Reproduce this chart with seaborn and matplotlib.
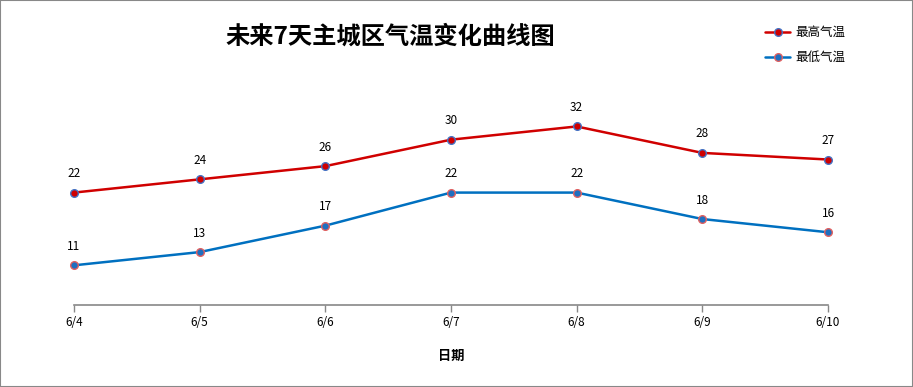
import pandas as pd
import matplotlib.pyplot as plt
import seaborn as sns
from matplotlib.patches import Rectangle

dates = ["6/4", "6/5", "6/6", "6/7", "6/8", "6/9", "6/10"]
high = [22, 24, 26, 30, 32, 28, 27]
low = [11, 13, 17, 22, 22, 18, 16]
series_names = ["最高气温", "最低气温"]

sns.set_theme(style="white")
plt.rcParams["font.family"] = ["Noto Sans CJK SC", "DejaVu Sans"]
plt.rcParams["text.color"] = "black"
plt.rcParams["xtick.color"] = "black"
plt.rcParams["axes.labelcolor"] = "black"

df = pd.DataFrame({
    "日期": list(range(len(dates))) * 2,
    "气温": high + low,
    "系列": [series_names[0]] * len(dates) + [series_names[1]] * len(dates),
})

fig = plt.figure(figsize=(9.13, 3.87), dpi=100)
ax = fig.add_axes([74 / 913, 1 - 305 / 387, (828 - 74) / 913, 205 / 387])

palette = {series_names[0]: "#D00000", series_names[1]: "#0070C0"}
sns.lineplot(data=df, x="日期", y="气温", hue="系列", palette=palette,
             linewidth=1.8, ax=ax, legend=False)

marker_face = {series_names[0]: "#D00000", series_names[1]: "#1F6FC0"}
marker_edge = {series_names[0]: "#4472C4", series_names[1]: "#E06060"}
for name in series_names:
    sub = df[df["系列"] == name]
    ax.plot(sub["日期"], sub["气温"], linestyle="none", marker="o", markersize=5.5,
            markerfacecolor=marker_face[name], markeredgecolor=marker_edge[name],
            markeredgewidth=1, clip_on=False, zorder=5)
    for xv, yv in zip(sub["日期"], sub["气温"]):
        ax.annotate(str(yv), (xv, yv), xytext=(0, 9), textcoords="offset points",
                    ha="center", va="bottom", fontsize=8.5, color="black")

ax.set_xlim(0, len(dates) - 1)
ax.set_ylim(5, 36)
ax.set_xticks(range(len(dates)))
ax.set_xticklabels(dates, fontsize=8.5)
ax.set_yticks([])
ax.set_ylabel("")
ax.set_xlabel("日期", fontsize=9.5, fontweight="bold", labelpad=14)
for side in ["top", "left", "right"]:
    ax.spines[side].set_visible(False)
ax.spines["bottom"].set_color("#888888")
ax.spines["bottom"].set_linewidth(1.2)
ax.tick_params(axis="x", direction="out", length=5, width=1, color="#888888",
               labelcolor="black", bottom=True, pad=3)

fig.text(390 / 913, 1 - 37 / 387, "未来7天主城区气温变化曲线图", ha="center", va="center",
         fontsize=17.5, fontweight="bold", color="black")

handles = [
    plt.Line2D([], [], color=palette[n], linewidth=1.8, marker="o", markersize=5.5,
               markerfacecolor=marker_face[n], markeredgecolor=marker_edge[n])
    for n in series_names
]
fig.legend(handles, series_names, loc="upper left", bbox_to_anchor=(754 / 913, 1 - 15 / 387),
           frameon=False, fontsize=9, handlelength=2.0, labelspacing=0.95, handletextpad=0.45)

fig.patches.append(Rectangle((0, 0), 1, 1, transform=fig.transFigure, fill=False,
                             edgecolor="#888888", linewidth=1.5))

plt.savefig("out.png", dpi=100)
plt.close()
